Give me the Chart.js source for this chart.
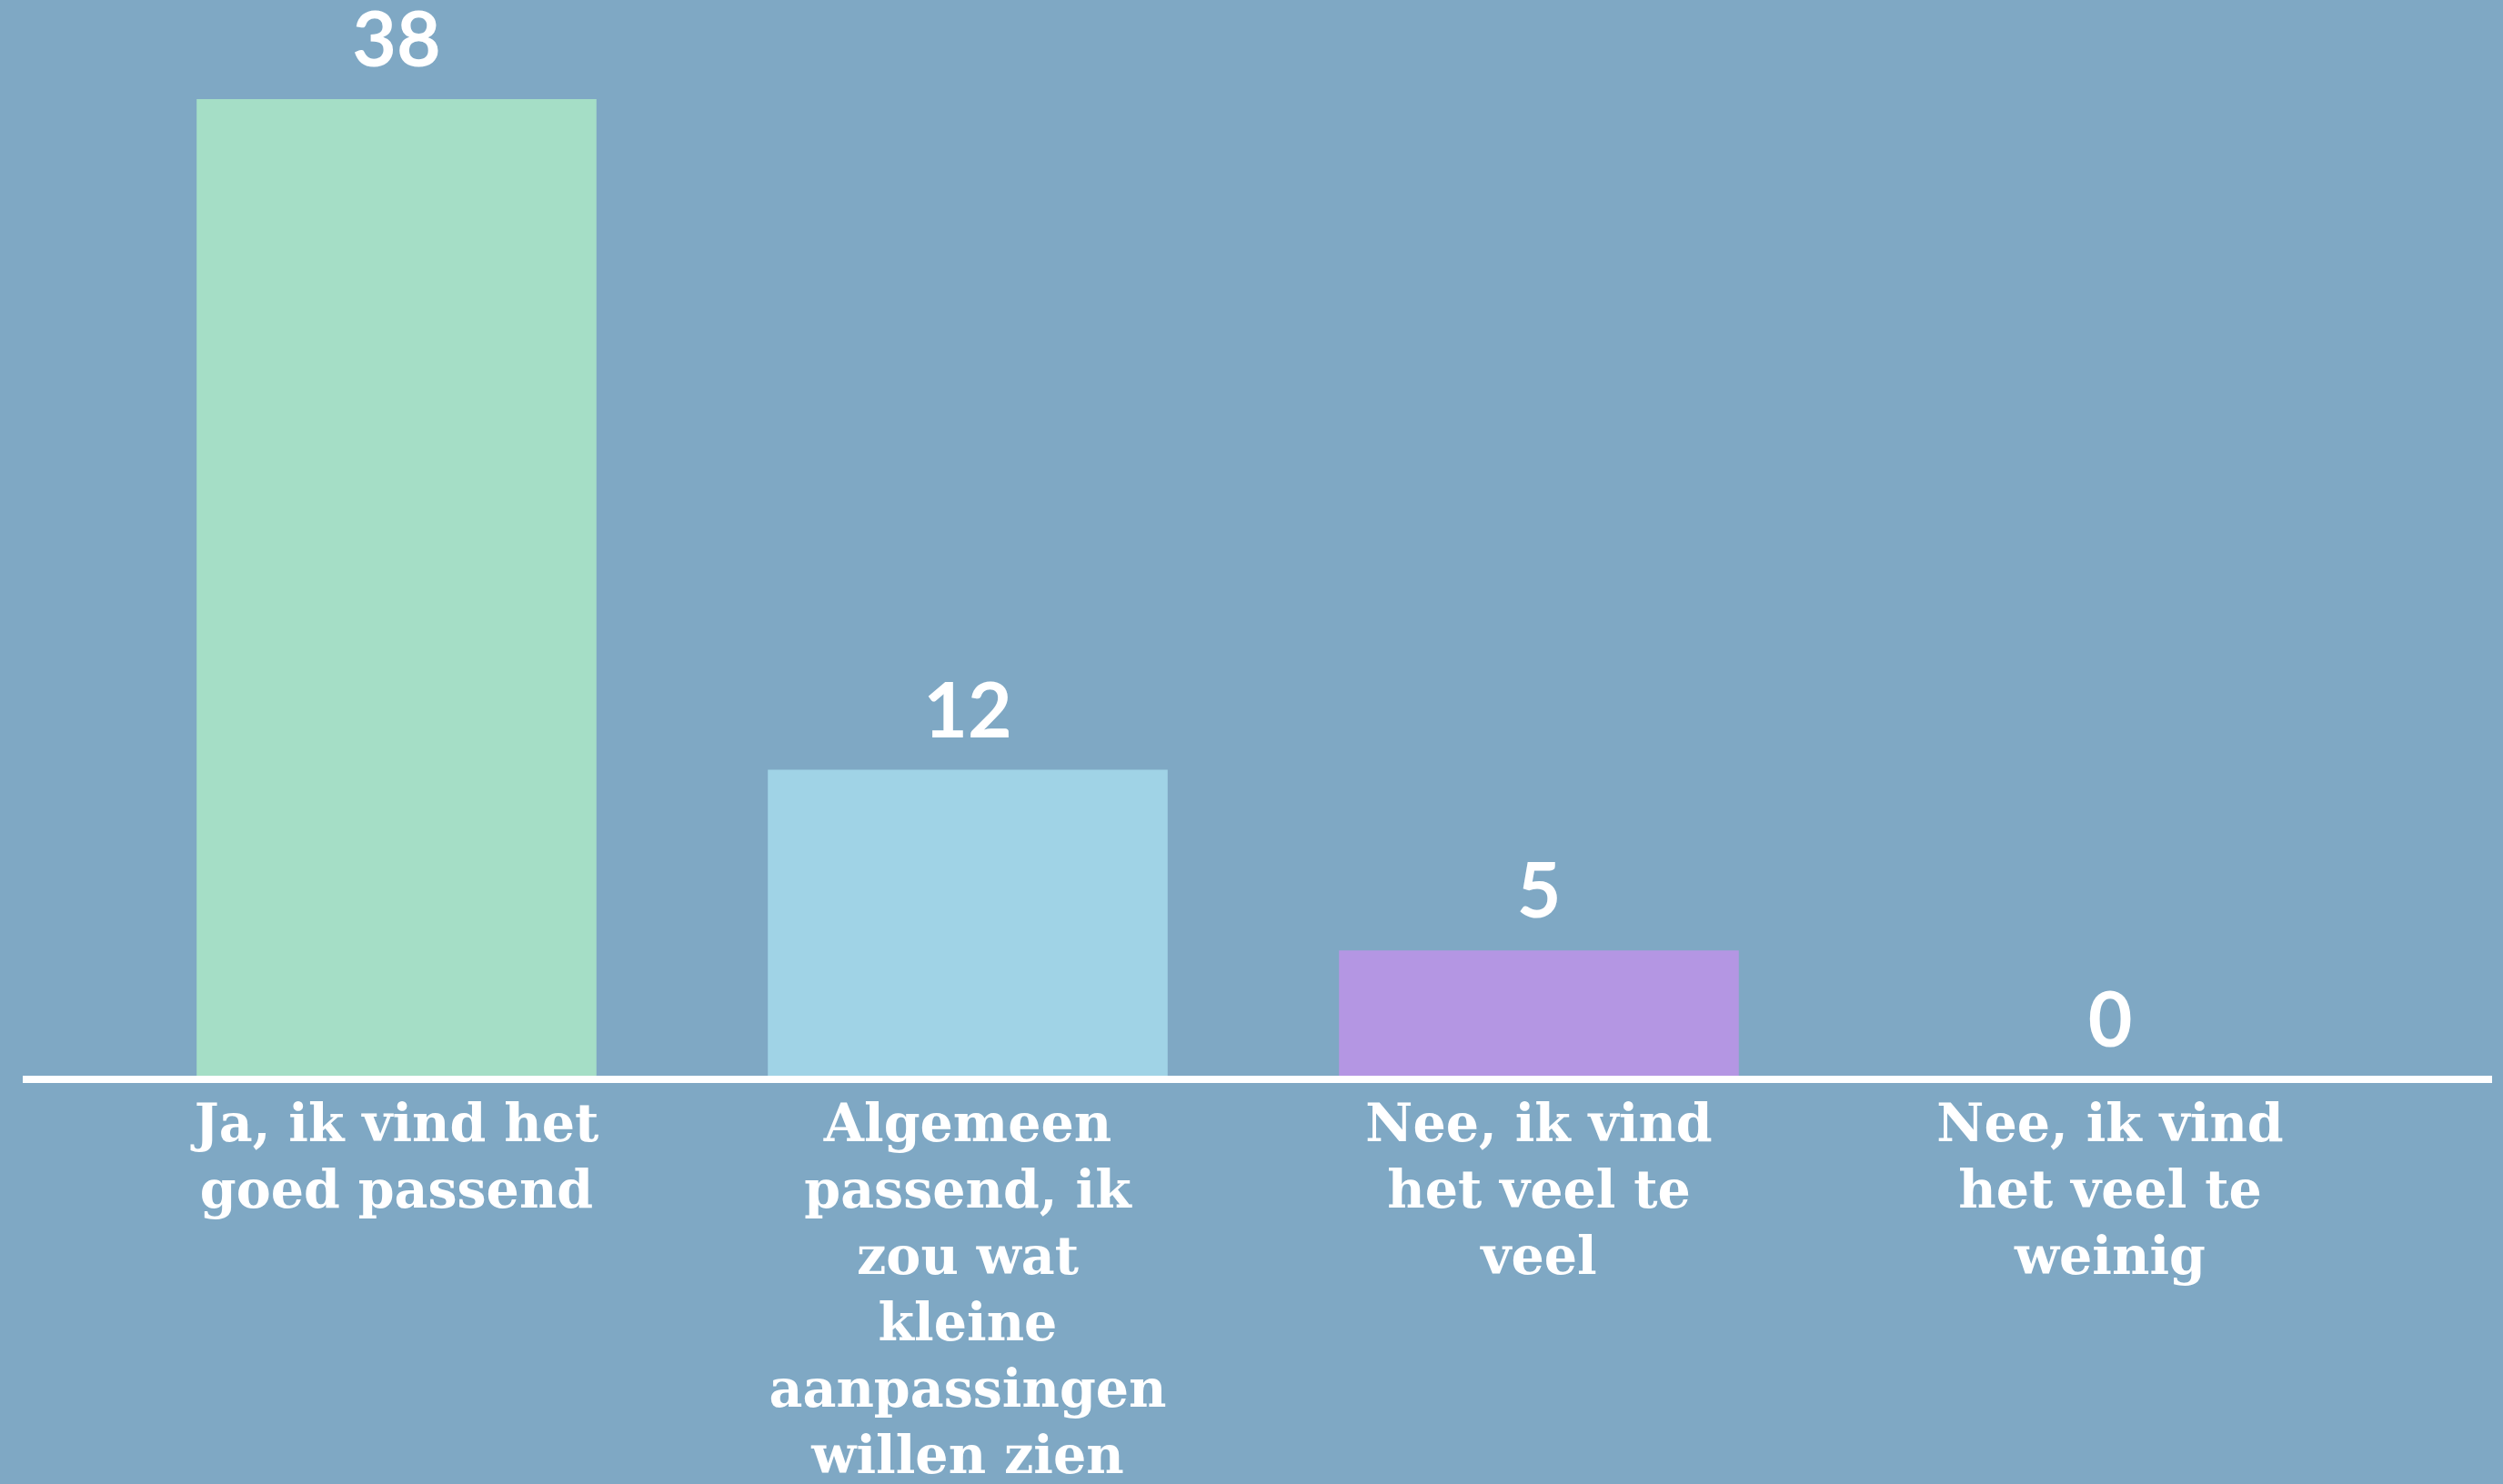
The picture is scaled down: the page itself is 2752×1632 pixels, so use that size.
<!DOCTYPE html>
<html><head><meta charset="utf-8">
<script src="https://cdn.jsdelivr.net/npm/chart.js@4"></script>
<style>
html,body{margin:0;padding:0;background:#7fa8c4;}
#wrap{width:2752px;height:1632px;position:relative;}
</style></head>
<body><div id="wrap"><canvas id="c" width="2752" height="1632"></canvas></div>
<script>
const categories = [
  ["Ja, ik vind het", "goed passend"],
  ["Algemeen", "passend, ik", "zou wat", "kleine", "aanpassingen", "willen zien"],
  ["Nee, ik vind", "het veel te", "veel"],
  ["Nee, ik vind", "het veel te", "weinig"]
];
const values = [38, 12, 5, 0];
const barColors = ["#a5dec6", "#a0d3e6", "#b496e3", "#a0d3e6"];

const valueLabels = {
  id: 'valueLabels',
  afterDatasetsDraw(chart) {
    const ctx = chart.ctx;
    const meta = chart.getDatasetMeta(0);
    ctx.save();
    ctx.fillStyle = '#ffffff';
    ctx.font = 'bold 84px Lato';
    ctx.textAlign = 'center';
    ctx.textBaseline = 'alphabetic';
    meta.data.forEach((bar, i) => {
      ctx.fillText(String(values[i]), bar.x, bar.y - 36);
    });
    ctx.restore();
  }
};
const axisLine = {
  id: 'axisLine',
  afterDatasetsDraw(chart) {
    const ctx = chart.ctx;
    const y = chart.chartArea.bottom;
    ctx.save();
    ctx.fillStyle = '#ffffff';
    ctx.fillRect(25, y - 4, 2715, 8);
    ctx.restore();
  }
};

new Chart(document.getElementById('c'), {
  type: 'bar',
  data: {
    labels: categories,
    datasets: [{
      data: values,
      backgroundColor: barColors,
      borderWidth: 0,
      categoryPercentage: 1.0,
      barPercentage: 0.70
    }]
  },
  options: {
    responsive: false,
    animation: false,
    devicePixelRatio: 1,
    layout: { padding: { left: 122, right: 118, top: 109, bottom: 0 } },
    plugins: { legend: { display: false }, tooltip: { enabled: false } },
    scales: {
      x: {
        grid: { display: false, drawTicks: false },
        border: { display: false },
        ticks: {
          color: '#ffffff',
          font: { family: 'DejaVu Serif', weight: 'bold', size: 57, lineHeight: 1.28 },
          padding: 17,
          maxRotation: 0,
          autoSkip: false
        },
        afterFit: s => { s.height = 445; }
      },
      y: {
        display: false,
        min: 0,
        max: 38
      }
    }
  },
  plugins: [valueLabels, axisLine]
});
</script>
</body></html>
